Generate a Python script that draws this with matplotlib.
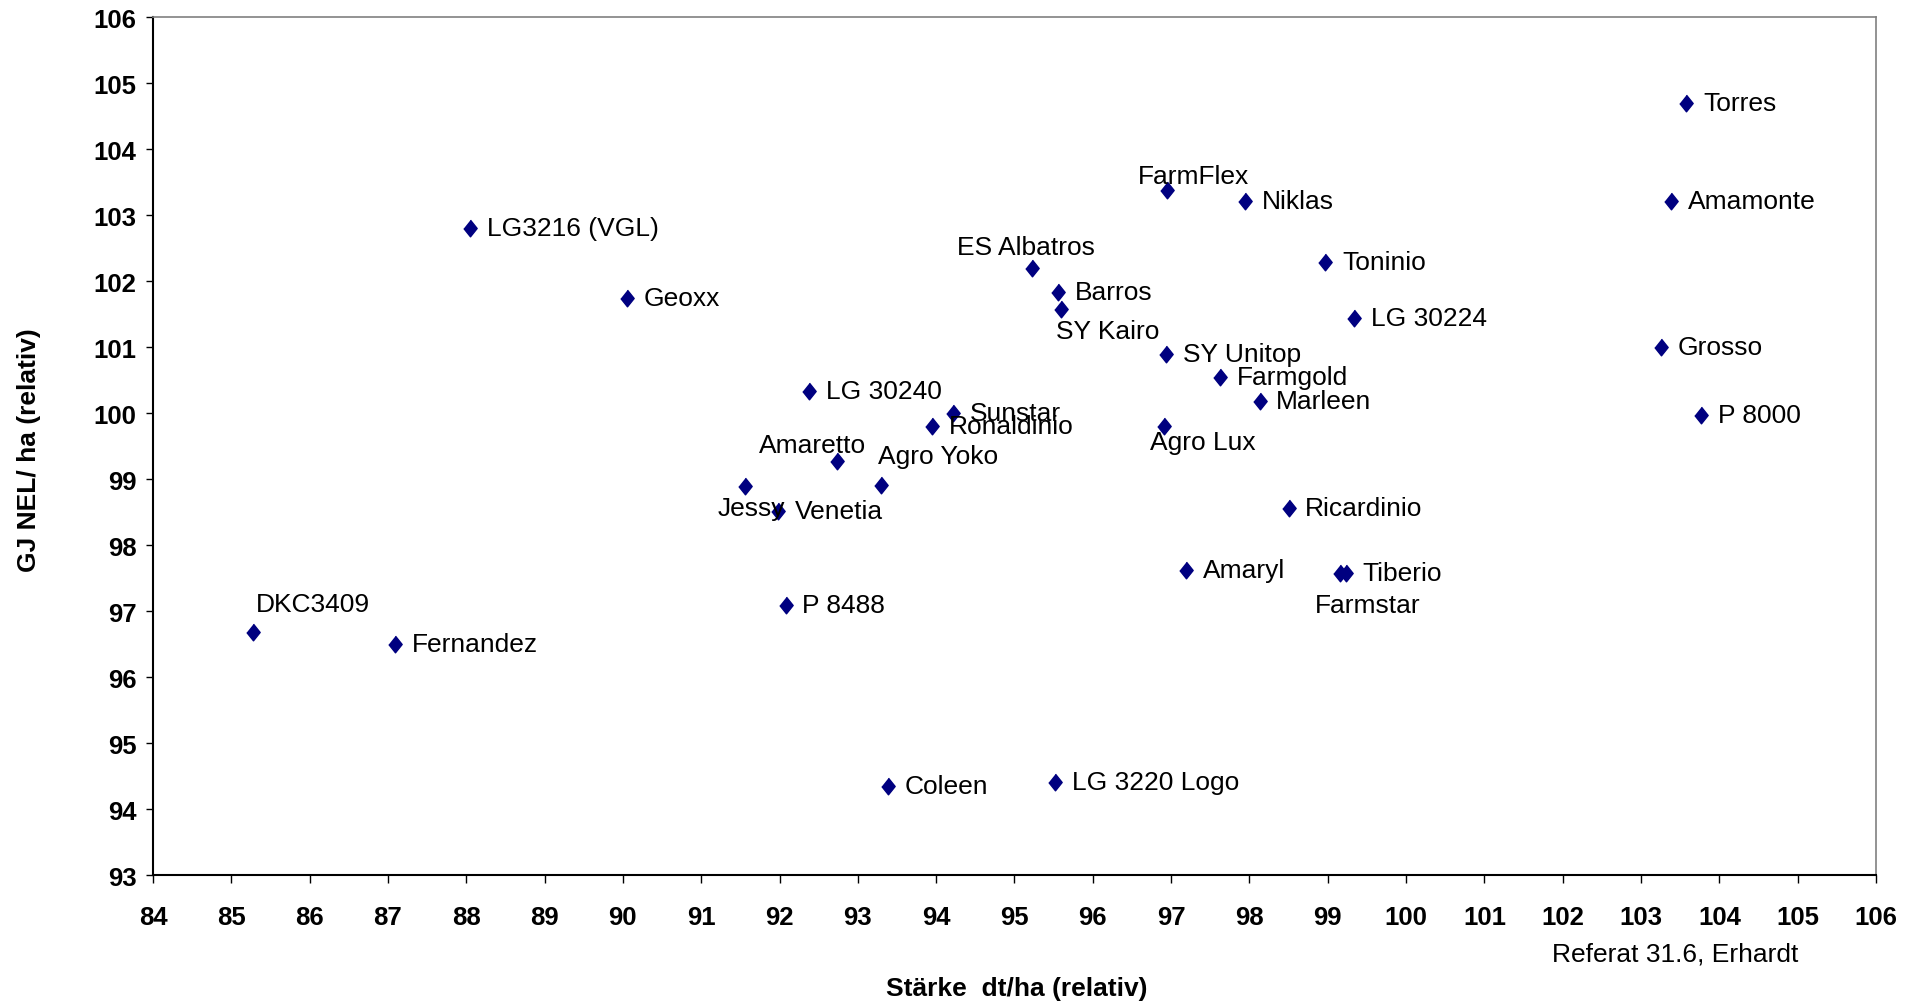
import matplotlib.pyplot as plt

plt.rcParams['font.family'] = ['Liberation Sans', 'DejaVu Sans']

# Sorten: Stärke (x) und GJ NEL/ha (y), jeweils relativ
sorten = ['Torres', 'Amamonte', 'Grosso', 'P 8000', 'Toninio', 'LG 30224',
          'Niklas', 'FarmFlex', 'ES Albatros', 'Barros', 'SY Kairo', 'SY Unitop',
          'Farmgold', 'Marleen', 'Agro Lux', 'Ricardinio', 'Amaryl', 'Tiberio',
          'Farmstar', 'LG 30240', 'Sunstar', 'Ronaldinio', 'Amaretto', 'Agro Yoko',
          'Jessy', 'Venetia', 'P 8488', 'Coleen', 'LG 3220 Logo', 'DKC3409',
          'Fernandez', 'LG3216 (VGL)', 'Geoxx']
staerke = [103.58, 103.38, 103.25, 103.77, 98.97, 99.34,
           97.94, 96.95, 95.23, 95.56, 95.59, 96.94,
           97.63, 98.13, 96.91, 98.50, 97.19, 99.23,
           99.16, 92.38, 94.22, 93.95, 92.73, 93.30,
           91.56, 91.98, 92.08, 93.38, 95.52, 85.28,
           87.09, 88.05, 90.05]
gj_nel = [104.70, 103.22, 101.01, 99.97, 102.29, 101.45,
          103.22, 103.38, 102.20, 101.84, 101.58, 100.90,
          100.55, 100.18, 99.80, 98.56, 97.63, 97.58,
          97.58, 100.34, 100.01, 99.80, 99.28, 98.91,
          98.90, 98.52, 97.10, 94.35, 94.41, 96.69,
          96.50, 102.81, 101.75]

# Beschriftungen, die nicht rechts neben dem Punkt stehen (Versatz in pt)
sonder = {
    'FarmFlex': (19, 10.5),
    'ES Albatros': (-5, 15),
    'SY Kairo': (34, -16),
    'Agro Lux': (28, -11.5),
    'Amaretto': (-17.5, 11.5),
    'Agro Yoko': (41, 21),
    'Jessy': (4.5, -16),
    'Farmstar': (20, -23),
    'DKC3409': (43, 19.5),
}

fig = plt.figure(figsize=(19.19, 10.03), dpi=100)
ax = fig.add_axes([0.0797, 0.1266, 0.8979, 0.8551])

ax.plot(staerke, gj_nel, linestyle='none',
        marker=[(0, 1), (0.8, 0), (0, -1), (-0.8, 0)],
        markersize=12, color='#000080')

for name, x, y in zip(sorten, staerke, gj_nel):
    if name in sonder:
        ax.annotate(name, (x, y), xytext=sonder[name], textcoords='offset points',
                    ha='center', va='center', fontsize=19)
    else:
        ax.annotate(name, (x, y), xytext=(12, 0), textcoords='offset points',
                    ha='left', va='center', fontsize=19)

ax.set_xlim(84, 106)
ax.set_ylim(93, 106)
ax.set_xticks(range(84, 107))
ax.set_yticks(range(93, 107))

for lab in ax.get_xticklabels() + ax.get_yticklabels():
    lab.set_fontweight('bold')
ax.tick_params(axis='x', direction='out', length=6, width=1, pad=15.5, labelsize=18.5)
ax.tick_params(axis='y', direction='out', length=5, width=1, pad=7, labelsize=18.5)

for s in ['top', 'right']:
    ax.spines[s].set_color('#808080')
    ax.spines[s].set_linewidth(1.2)
for s in ['left', 'bottom']:
    ax.spines[s].set_color('black')
    ax.spines[s].set_linewidth(1.5)

fig.text(0.53, 0.0143, 'Stärke  dt/ha (relativ)', ha='center', va='center',
         fontsize=19, fontweight='bold')
fig.text(0.0153, 0.551, 'GJ NEL/ ha (relativ)', ha='center', va='center',
         rotation=90, fontsize=19, fontweight='bold')
fig.text(0.937, 0.0483, 'Referat 31.6, Erhardt', ha='right', va='center', fontsize=19)

fig.savefig('out.png', dpi=100)
